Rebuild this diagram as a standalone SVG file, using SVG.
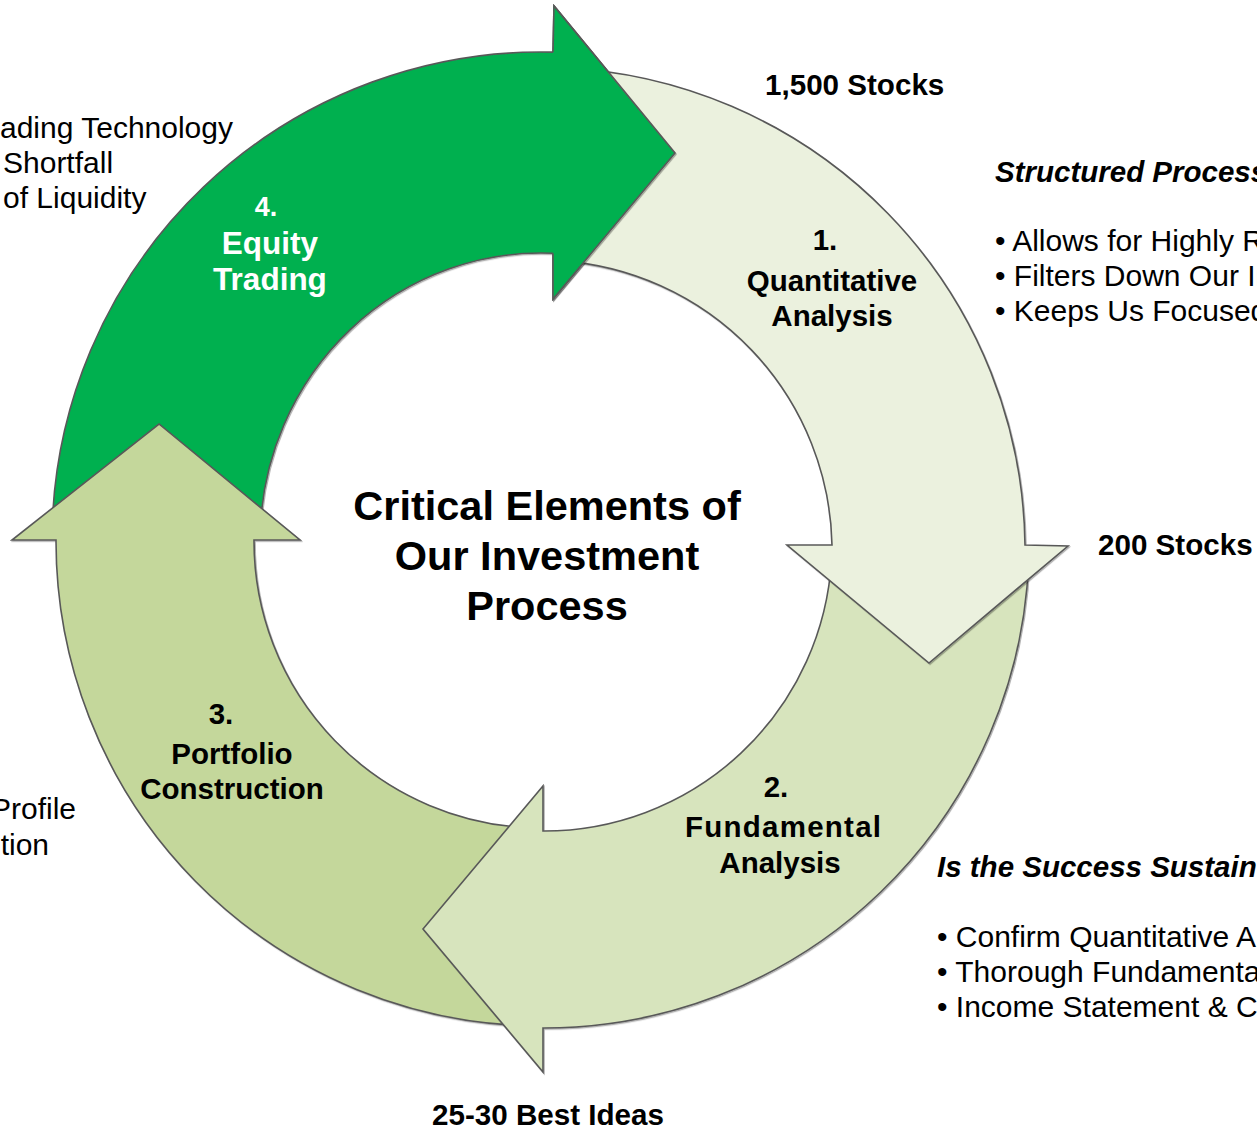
<svg xmlns="http://www.w3.org/2000/svg" width="1257" height="1131" viewBox="0 0 1257 1131">
<style>
text{font-family:"Liberation Sans",Arial,Helvetica,sans-serif;fill:#000}
.arr{stroke:#595959;stroke-width:1.6;stroke-linejoin:miter}
.lbl{font-weight:bold;font-size:29.5px;text-anchor:middle}
.wl{font-weight:bold;font-size:31.5px;text-anchor:middle;fill:#fff}
.cnt{font-weight:bold;font-size:29.6px}
.ttl{font-weight:bold;font-size:41.5px;text-anchor:middle}
.side{font-size:30px}
.hd{font-weight:bold;font-style:italic;font-size:29.5px}
</style>
<defs>
  <filter id="sh" x="-5%" y="-5%" width="110%" height="110%">
    <feDropShadow dx="1" dy="1.2" stdDeviation="0.6" flood-color="#000" flood-opacity="0.3"/>
  </filter>
</defs>
<rect width="1257" height="1131" fill="#fff"/>
<g id="connectors">
  <g id="arrow4" filter="url(#sh)">
    <path class="arr" fill="#00B050" d="M52.1,530 A489,489 0 0 1 553,52.15 L554,6 L675,153 L553,299 L553,253.3 A281,288 0 0 0 260.2,530 Z"/>
  </g>
  <g id="arrow3" filter="url(#sh)">
    <path class="arr" fill="#C4D79B" d="M533,1025.9 A485,485 0 0 1 56,540 L12,540 L159,424 L300,540 L254,540 A287,287 0 0 0 533,827.9 Z"/>
  </g>
  <g id="arrow2" filter="url(#sh)">
    <path class="arr" fill="#D7E4BD" d="M1028.7,560 A485,485 0 0 1 543,1028 L543,1072 L423,929 L543,786 L543,831 A288,288 0 0 0 831.5,560 Z"/>
  </g>
  <g id="arrow1" filter="url(#sh)">
    <path class="arr" fill="#EBF1DE" d="M560,67.75 A483.4,483.4 0 0 1 1025,545 L1068,546 L929,663 L787,545 L832,545 A290.5,290.5 0 0 0 560,260.9 Z"/>
  </g>
  <g id="arrow4-head" filter="url(#sh)">
    <polygon fill="#00B050" points="553,6 675,153 553,299"/>
    <polyline class="arr" fill="none" points="553,52.15 554,6 675,153 553,299 553,253.3"/>
  </g>
</g>
<g id="node-title">
  <text class="ttl" x="547" y="520">Critical Elements of</text>
  <text class="ttl" x="547" y="570">Our Investment</text>
  <text class="ttl" x="547" y="620">Process</text>
</g>
<g id="node-1">
  <text class="lbl" x="825" y="250">1.</text>
  <text class="lbl" x="832" y="291">Quantitative</text>
  <text class="lbl" x="832" y="326">Analysis</text>
</g>
<g id="node-2">
  <text class="lbl" x="776" y="797">2.</text>
  <text class="lbl" x="783" y="837" textLength="196" lengthAdjust="spacing">Fundamental</text>
  <text class="lbl" x="780" y="873">Analysis</text>
</g>
<g id="node-3">
  <text class="lbl" x="221" y="724">3.</text>
  <text class="lbl" x="232" y="764">Portfolio</text>
  <text class="lbl" x="232" y="799">Construction</text>
</g>
<g id="node-4">
  <text class="wl" x="266" y="216" style="font-size:27px">4.</text>
  <text class="wl" x="270" y="254">Equity</text>
  <text class="wl" x="270" y="290">Trading</text>
</g>
<g id="counts">
  <text class="cnt" x="765" y="95">1,500 Stocks</text>
  <text class="cnt" x="1098" y="555">200 Stocks</text>
  <text class="cnt" x="432" y="1125">25-30 Best Ideas</text>
</g>
<g id="notes-left">
  <text class="side" x="0" y="138">ading Technology</text>
  <text class="side" x="3" y="173">Shortfall</text>
  <text class="side" x="3" y="208">of Liquidity</text>
  <text class="side" x="76" y="819" text-anchor="end">Profile</text>
  <text class="side" x="49" y="855" text-anchor="end">tion</text>
</g>
<g id="notes-right-top">
  <text class="hd" x="995" y="182">Structured Process</text>
  <text class="side" x="995" y="251">• Allows for Highly R</text>
  <text class="side" x="995" y="286">• Filters Down Our In</text>
  <text class="side" x="995" y="321">• Keeps Us Focused</text>
</g>
<g id="notes-right-bottom">
  <text class="hd" x="937" y="877">Is the Success Sustain</text>
  <text class="side" x="937" y="947">• Confirm Quantitative A</text>
  <text class="side" x="937" y="982">• Thorough Fundamenta</text>
  <text class="side" x="937" y="1017">• Income Statement &amp; C</text>
</g>
</svg>
